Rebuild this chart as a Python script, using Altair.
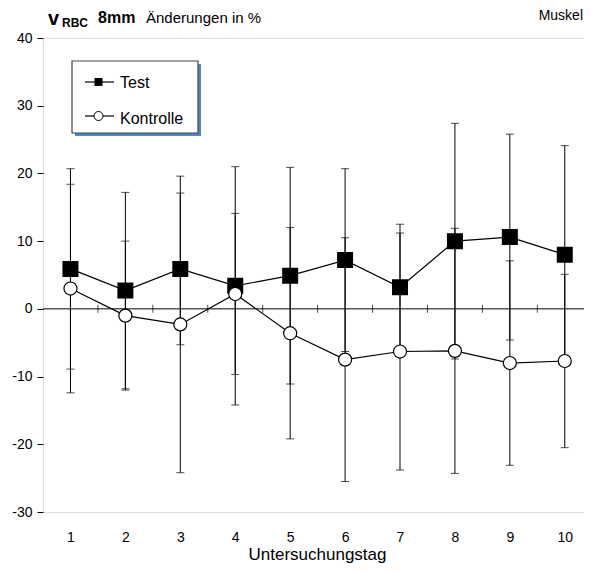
import altair as alt
import pandas as pd

days = list(range(1, 11))
test_mean = [5.9, 2.7, 5.9, 3.4, 4.9, 7.2, 3.2, 10.0, 10.6, 8.0]
test_sd = [14.8, 14.5, 11.2, 17.6, 16.0, 13.5, 9.3, 17.4, 15.2, 16.1]
ktr_mean = [3.0, -1.0, -2.3, 2.2, -3.6, -7.5, -6.3, -6.2, -8.0, -7.7]
ktr_sd = [15.4, 11.0, 21.9, 11.9, 15.6, 18.0, 17.5, 18.1, 15.1, 12.8]
minor_ticks = [1.5, 2.5, 3.5, 4.5, 5.5, 6.5, 7.5, 8.5, 9.5]
y_ticks = [-30, -20, -10, 0, 10, 20, 30, 40]

FONT = "Liberation Sans"

rows = []
for d, m, s in zip(days, test_mean, test_sd):
    rows.append({"day": d, "group": "Test", "mean": m, "lo": m - s, "hi": m + s})
for d, m, s in zip(days, ktr_mean, ktr_sd):
    rows.append({"day": d, "group": "Kontrolle", "mean": m, "lo": m - s, "hi": m + s})
df = pd.DataFrame(rows)

xs = alt.Scale(domain=[0.5, 10.35], nice=False, zero=False)
ys = alt.Scale(domain=[-30, 40], nice=False, zero=False)

base = alt.Chart(df)

x_enc = alt.X("day:Q", scale=xs, title="Untersuchungstag",
              axis=alt.Axis(values=days, format="d", ticks=False, domain=False, grid=False,
                            labelFontSize=14, labelPadding=18, titleFontSize=17,
                            titleFontWeight="normal", titlePadding=2, titleX=274,
                            labelFont=FONT, titleFont=FONT, labelColor="black",
                            titleColor="black"))
y_enc = alt.Y("lo:Q", scale=ys, title=None,
              axis=alt.Axis(values=y_ticks, tickSize=6, domain=False, grid=False,
                            labelFontSize=14, labelPadding=5, labelFont=FONT,
                            labelExpr="datum.value < 0 ? '-' + abs(datum.value) : '' + datum.value",
                            tickColor="black", labelColor="black"))

bars = base.mark_rule(color="black", strokeWidth=1).encode(
    x=x_enc, y=y_enc, y2="hi:Q")

caps_hi = base.mark_tick(color="black", orient="horizontal", size=8, thickness=1).encode(
    x=alt.X("day:Q", scale=xs), y=alt.Y("hi:Q", scale=ys))
caps_lo = base.mark_tick(color="black", orient="horizontal", size=8, thickness=1).encode(
    x=alt.X("day:Q", scale=xs), y=alt.Y("lo:Q", scale=ys))

zero = alt.Chart(pd.DataFrame({"z": [0]})).mark_rule(color="black", strokeWidth=1).encode(
    y=alt.Y("z:Q", scale=ys))
mticks = alt.Chart(pd.DataFrame({"t": minor_ticks, "z": [0] * len(minor_ticks)})).mark_tick(
    color="black", orient="vertical", size=8, thickness=1).encode(
    x=alt.X("t:Q", scale=xs), y=alt.Y("z:Q", scale=ys))

lines = base.mark_line(color="black", strokeWidth=1.2).encode(
    x=alt.X("day:Q", scale=xs), y=alt.Y("mean:Q", scale=ys), detail="group:N")

sq = base.transform_filter(alt.datum.group == "Test").mark_point(
    shape="square", filled=True, fill="black", stroke="black", size=196, opacity=1).encode(
    x=alt.X("day:Q", scale=xs), y=alt.Y("mean:Q", scale=ys))
ci = base.transform_filter(alt.datum.group == "Kontrolle").mark_point(
    shape="circle", filled=True, fill="white", stroke="black", strokeWidth=1.2,
    size=170, opacity=1).encode(
    x=alt.X("day:Q", scale=xs), y=alt.Y("mean:Q", scale=ys))

one = alt.Chart(pd.DataFrame({"a": [0]}))

# legend (manual)
shadow = one.mark_rect(fill="#4f86c6").encode(
    x=alt.value(32), x2=alt.value(158), y=alt.value(26), y2=alt.value(98))
box = one.mark_rect(fill="white", stroke="#444444", strokeWidth=1.2).encode(
    x=alt.value(29), x2=alt.value(155), y=alt.value(23), y2=alt.value(95))
lg_l1 = one.mark_rule(color="black", strokeWidth=1.2).encode(
    x=alt.value(42), x2=alt.value(71), y=alt.value(44))
lg_l2 = one.mark_rule(color="black", strokeWidth=1.2).encode(
    x=alt.value(42), x2=alt.value(71), y=alt.value(78))
lg_s = one.mark_point(shape="square", filled=True, fill="black", size=64, opacity=1).encode(
    x=alt.value(55.5), y=alt.value(44))
lg_c = one.mark_point(shape="circle", filled=True, fill="white", stroke="black",
                      strokeWidth=1, size=81, opacity=1).encode(
    x=alt.value(55.5), y=alt.value(78))
lg_t1 = one.mark_text(text="Test", font=FONT, fontSize=16, align="left",
                      baseline="alphabetic", color="black").encode(
    x=alt.value(77), y=alt.value(50))
lg_t2 = one.mark_text(text="Kontrolle", font=FONT, fontSize=16, align="left",
                      baseline="alphabetic", color="black").encode(
    x=alt.value(77), y=alt.value(86))

# header texts
t_v = one.mark_text(text="v", font=FONT, fontSize=20, fontWeight="bold", align="left",
                    baseline="alphabetic", color="black").encode(x=alt.value(5), y=alt.value(-13))
t_rbc = one.mark_text(text="RBC", font=FONT, fontSize=12, fontWeight="bold", align="left",
                      baseline="alphabetic", color="black").encode(x=alt.value(19), y=alt.value(-11))
t_8 = one.mark_text(text="8mm", font=FONT, fontSize=16, fontWeight="bold", align="left",
                    baseline="alphabetic", color="black").encode(x=alt.value(55), y=alt.value(-15))
t_ae = one.mark_text(text="Änderungen in %", font=FONT, fontSize=15, align="left",
                     baseline="alphabetic", color="black").encode(x=alt.value(103), y=alt.value(-15))
t_m = one.mark_text(text="Muskel", font=FONT, fontSize=14, align="right",
                    baseline="alphabetic", color="black").encode(x=alt.value(540), y=alt.value(-18))

chart = alt.layer(
    zero, mticks, bars, caps_hi, caps_lo, lines, sq, ci,
    shadow, box, lg_l1, lg_l2, lg_s, lg_c, lg_t1, lg_t2,
    t_v, t_rbc, t_8, t_ae, t_m
).properties(
    width=541, height=474,
    autosize=alt.AutoSizeParams(type="none"),
    padding={"left": 35, "top": 30, "right": 0, "bottom": 52},
).configure_view(stroke="black", strokeWidth=1).configure(background="white")

chart.save("out.html", embed_options={"renderer": "svg", "actions": False})
